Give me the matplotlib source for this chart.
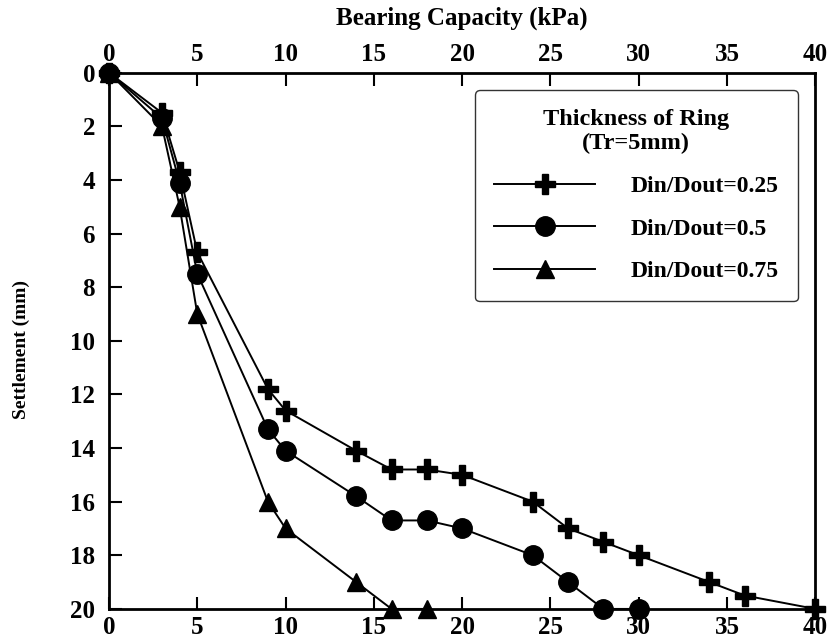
import matplotlib.pyplot as plt

plt.rcParams['font.family'] = ['Liberation Serif', 'DejaVu Serif']
plt.rcParams['font.weight'] = 'bold'

x_025 = [0, 3, 4, 5, 9, 10, 14, 16, 18, 20, 24, 26, 28, 30, 34, 36, 40]
y_025 = [0, 1.5, 3.7, 6.7, 11.8, 12.6, 14.1, 14.8, 14.8, 15, 16, 17, 17.5, 18, 19, 19.5, 20]

x_05 = [0, 3, 4, 5, 9, 10, 14, 16, 18, 20, 24, 26, 28, 30]
y_05 = [0, 1.7, 4.1, 7.5, 13.3, 14.1, 15.8, 16.7, 16.7, 17, 18, 19, 20, 20]

x_075 = [0, 3, 4, 5, 9, 10, 14, 16, 18]
y_075 = [0, 2, 5, 9, 16, 17, 19, 20, 20]

labels = ['Din/Dout=0.25', 'Din/Dout=0.5', 'Din/Dout=0.75']
xticks = [0, 5, 10, 15, 20, 25, 30, 35, 40]
yticks = [0, 2, 4, 6, 8, 10, 12, 14, 16, 18, 20]

fig = plt.figure(figsize=(8.32, 6.43), dpi=100)
ax = fig.add_axes([0.131, 0.053, 0.849, 0.834])

ax.plot(x_025, y_025, color='black', lw=1.4, marker='P', ms=15, label=labels[0], clip_on=False, zorder=3)
ax.plot(x_05, y_05, color='black', lw=1.4, marker='o', ms=14, label=labels[1], clip_on=False, zorder=3)
ax.plot(x_075, y_075, color='black', lw=1.4, marker='^', ms=13, label=labels[2], clip_on=False, zorder=3)

ax.set_xlim(0, 40)
ax.set_ylim(20, 0)
ax.set_xticks(xticks)
ax.set_yticks(yticks)
ax.tick_params(top=True, labeltop=True, right=False, direction='in', length=9, width=1.5,
               labelsize=18)
ax.tick_params(axis='x', pad=5)
ax.tick_params(axis='y', pad=10)
for s in ax.spines.values():
    s.set_linewidth(2)

ax.set_title('Bearing Capacity (kPa)', fontsize=18, fontweight='bold', pad=13)
ax.set_ylabel('Settlement (mm)', fontsize=14, fontweight='bold')
ax.yaxis.set_label_coords(-0.112, 0.483)

leg = ax.legend(title='Thickness of Ring\n(Tr=5mm)', loc='upper right', bbox_to_anchor=(0.975, 0.968),
                fontsize=17, title_fontsize=17.5, frameon=True, fancybox=True, edgecolor='black',
                handlelength=4.3, borderpad=0.8, labelspacing=0.9, handletextpad=1.5, borderaxespad=0)
leg.get_frame().set_linewidth(1)
leg.get_title().set_fontweight('bold')
leg.get_title().set_multialignment('center')

fig.savefig('out.png', dpi=100)
